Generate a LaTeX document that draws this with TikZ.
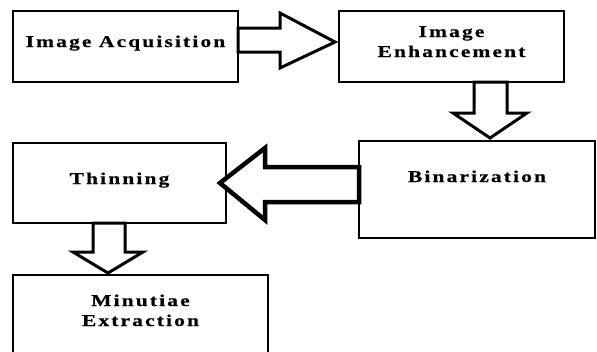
\documentclass[tikz,border=0pt]{standalone}
\usepackage{fontspec}
\newfontfamily\stagefont{Liberation Serif Bold}[FakeStretch=1.3,LetterSpace=13,FakeBold=0.6]
\usetikzlibrary{calc}
\tikzset{
	stage/.style={% boxes for the processing steps
		draw, rectangle,
		line width=1.6pt,
		minimum width=225pt,
		minimum height=71pt,
		outer sep=0pt,
		text height=10pt,
		font=\stagefont\fontsize{16.5}{20}\selectfont,
		align=center
	},
	fat/.style={% hollow block arrows
		draw, fill=white,
		line width=3pt,
		line join=miter
	}
}
\begin{document}
\begin{tikzpicture}[x=1pt,y=-1pt]
	\useasboundingbox (0,0) rectangle (597,351);
	\clip (0,0) rectangle (597,351);
	\node [stage, text depth=9pt] (acq) at (125.5,46.5) {Image Acquisition};
	\node [stage, text height=24pt, text depth=3pt] (enh) at (451.5,46.5) {Image\\Enhancement};
	\node [stage, minimum width=236pt, minimum height=97pt, text depth=25pt] (bin) at (477,189.5) {Binarization};
	\node [stage, minimum width=213pt, minimum height=80pt, text depth=8pt] (thin) at (119.5,183) {Thinning};
	\node [stage, minimum width=255pt, minimum height=90pt, text height=15pt, text depth=3pt] (minu) at (140.5,320) {Minutiae\\Extraction};
	% block arrows between the steps
	\draw [fat] ($(acq.east)+(0,-18.5)$) -- ++(42,0) -- ++(0,-15) -- ($(enh.west)+(-4,-4.5)$)
		-- ($(acq.east)+(42,21.5)$) -- ++(0,-16) -- ($(acq.east)+(0,5.5)$) -- cycle;
	\draw [fat] ($(enh.south)+(22.5,0)$) -- ++(0,31) -- ++(-21,0) -- ($(bin.north)+(13,-3)$)
		-- ($(enh.south)+(75.5,31)$) -- ++(-20,0) -- ($(enh.south)+(55.5,0)$) -- cycle;
	\draw [fat, line width=4.5pt] ($(bin.west)+(0,-22.5)$) -- ++(-94,0) -- ++(0,-19) -- ($(thin.east)+(-6,0)$)
		-- ($(bin.west)+(-94,30.5)$) -- ++(0,-18) -- ($(bin.west)+(0,12.5)$) -- cycle;
	\draw [fat] ($(thin.south)+(-26.5,0)$) -- ++(0,29) -- ++(-20,0) -- ($(minu.north)+(-32.5,-2)$)
		-- ($(thin.south)+(23.5,29)$) -- ++(-18,0) -- ($(thin.south)+(5.5,0)$) -- cycle;
\end{tikzpicture}
\end{document}
